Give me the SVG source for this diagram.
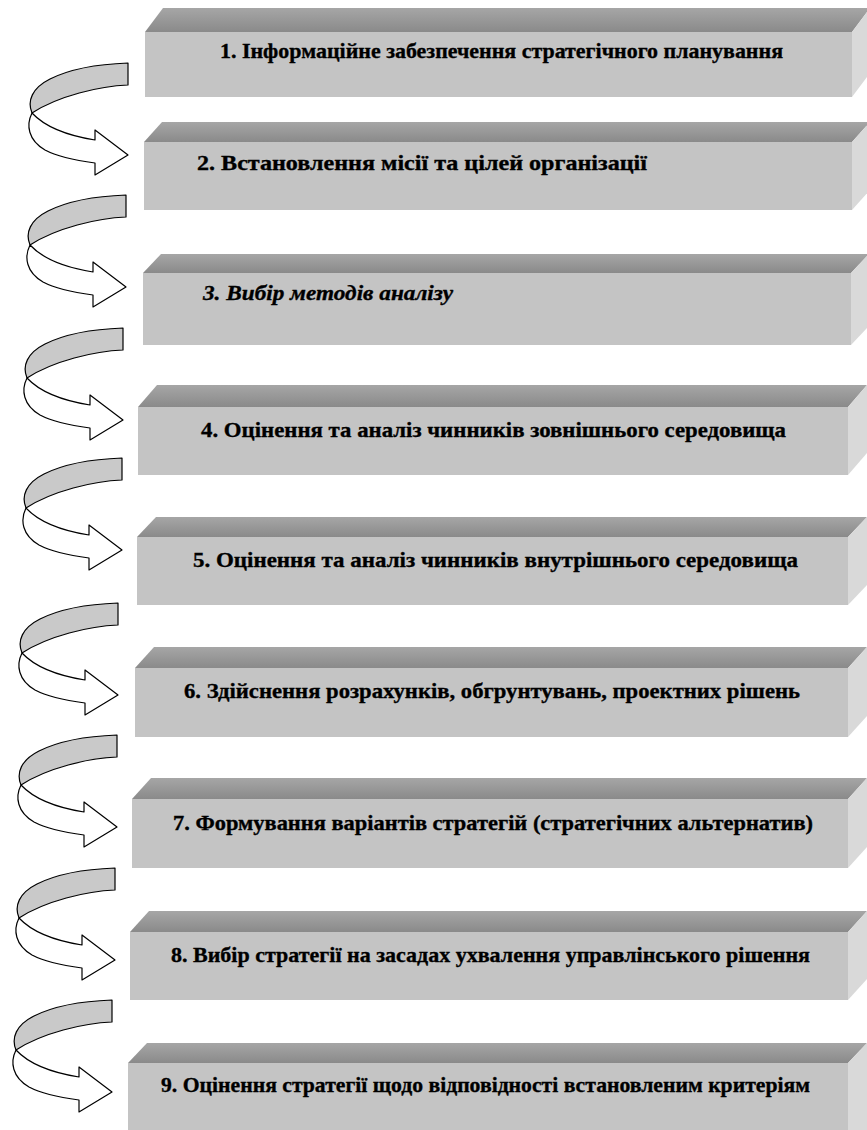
<svg xmlns="http://www.w3.org/2000/svg" xmlns:xlink="http://www.w3.org/1999/xlink" width="867" height="1130" viewBox="0 0 867 1130">
  <style>
    .top { fill: url(#topShade); }
    .front { fill: #c4c4c4; }
    .side { fill: #d9d9d9; }
    .label { font-family: "Liberation Serif", "Times New Roman", serif; font-weight: bold; font-size: 22px; fill: #000; stroke: #000; stroke-width: 0.35; }
    .italic { font-style: italic; }
    .band { fill: #c9c9c9; stroke: #000; stroke-width: 1.2; stroke-linejoin: round; }
    .face { fill: #fff; stroke: #000; stroke-width: 1.2; stroke-linejoin: round; }
  </style>
  <defs>
    <linearGradient id="topShade" x1="0" y1="0" x2="0" y2="1">
      <stop offset="0" stop-color="#a6a6a6"/>
      <stop offset="1" stop-color="#8a8a8a"/>
    </linearGradient>
    <!-- curled ribbon arrow: shaded back side above, white front side below -->
    <g id="curl">
      <path class="band" d="M128,63 L128,85 C100,86 58,96 32,113 C27,101 32,88 50,79 C70,69 100,64 128,63 Z"/>
      <path class="face" d="M32,113 C26,125 28,140 45,150 C60,158 80,161 95,163 L95,175 L128,155 L95,130 L95,140 C70,136 46,128 32,113 Z"/>
    </g>
  </defs>

  <rect width="867" height="1130" fill="#fff"/>

  <g id="node-1">
    <polygon class="top" points="145,32 163,8 870,8 852,32"/>
    <rect class="front" x="145" y="32" width="707" height="65"/>
    <polygon class="side" points="852,32 870,8 870,73 852,97"/>
    <text class="label" x="220" y="58" textLength="563" lengthAdjust="spacingAndGlyphs">1. Інформаційне забезпечення стратегічного планування</text>
  </g>

  <g id="node-2">
    <polygon class="top" points="144,142 162,122 870,122 852,142"/>
    <rect class="front" x="144" y="142" width="708" height="68"/>
    <polygon class="side" points="852,142 870,122 870,190 852,210"/>
    <text class="label" x="197" y="170" textLength="450" lengthAdjust="spacingAndGlyphs">2. Встановлення місії та цілей організації</text>
  </g>

  <g id="node-3">
    <polygon class="top" points="143,273 161,254 869,254 851,273"/>
    <rect class="front" x="143" y="273" width="708" height="72"/>
    <polygon class="side" points="851,273 869,254 869,326 851,345"/>
    <text class="label italic" x="203" y="300" textLength="250" lengthAdjust="spacingAndGlyphs">3. Вибір методів аналізу</text>
  </g>

  <g id="node-4">
    <polygon class="top" points="138,407 157,385 867,385 848,407"/>
    <rect class="front" x="138" y="407" width="710" height="68"/>
    <polygon class="side" points="848,407 867,385 867,453 848,475"/>
    <text class="label" x="201" y="437" textLength="585" lengthAdjust="spacingAndGlyphs">4. Оцінення та аналіз чинників зовнішнього середовища</text>
  </g>

  <g id="node-5">
    <polygon class="top" points="137,537 156,517 867,517 848,537"/>
    <rect class="front" x="137" y="537" width="711" height="68"/>
    <polygon class="side" points="848,537 867,517 867,585 848,605"/>
    <text class="label" x="193" y="567" textLength="605" lengthAdjust="spacingAndGlyphs">5. Оцінення та аналіз чинників внутрішнього середовища</text>
  </g>

  <g id="node-6">
    <polygon class="top" points="135,668 154,647 867,647 848,668"/>
    <rect class="front" x="135" y="668" width="713" height="69"/>
    <polygon class="side" points="848,668 867,647 867,716 848,737"/>
    <text class="label" x="184" y="698" textLength="616" lengthAdjust="spacingAndGlyphs">6. Здійснення розрахунків, обгрунтувань, проектних рішень</text>
  </g>

  <g id="node-7">
    <polygon class="top" points="132,799 151,778 867,778 848,799"/>
    <rect class="front" x="132" y="799" width="716" height="69"/>
    <polygon class="side" points="848,799 867,778 867,847 848,868"/>
    <text class="label" x="173" y="830" textLength="640" lengthAdjust="spacingAndGlyphs">7. Формування варіантів стратегій (стратегічних альтернатив)</text>
  </g>

  <g id="node-8">
    <polygon class="top" points="130,932 149,911 867,911 848,932"/>
    <rect class="front" x="130" y="932" width="718" height="68"/>
    <polygon class="side" points="848,932 867,911 867,979 848,1000"/>
    <text class="label" x="171" y="962" textLength="639" lengthAdjust="spacingAndGlyphs">8. Вибір стратегії на засадах ухвалення управлінського рішення</text>
  </g>

  <g id="node-9">
    <polygon class="top" points="128,1063 147,1043 867,1043 848,1063"/>
    <rect class="front" x="128" y="1063" width="720" height="80"/>
    <polygon class="side" points="848,1063 867,1043 867,1130 848,1130"/>
    <text class="label" x="161" y="1092" textLength="649" lengthAdjust="spacingAndGlyphs">9. Оцінення стратегії щодо відповідності встановленим критеріям</text>
  </g>

  <g id="connectors">
    <use xlink:href="#curl" transform="translate(0,0)"/>
    <use xlink:href="#curl" transform="translate(-2,132)"/>
    <use xlink:href="#curl" transform="translate(-5,265)"/>
    <use xlink:href="#curl" transform="translate(-6,395)"/>
    <use xlink:href="#curl" transform="translate(-10,540)"/>
    <use xlink:href="#curl" transform="translate(-11,672)"/>
    <use xlink:href="#curl" transform="translate(-13,805)"/>
    <use xlink:href="#curl" transform="translate(-16,937)"/>
  </g>
</svg>
